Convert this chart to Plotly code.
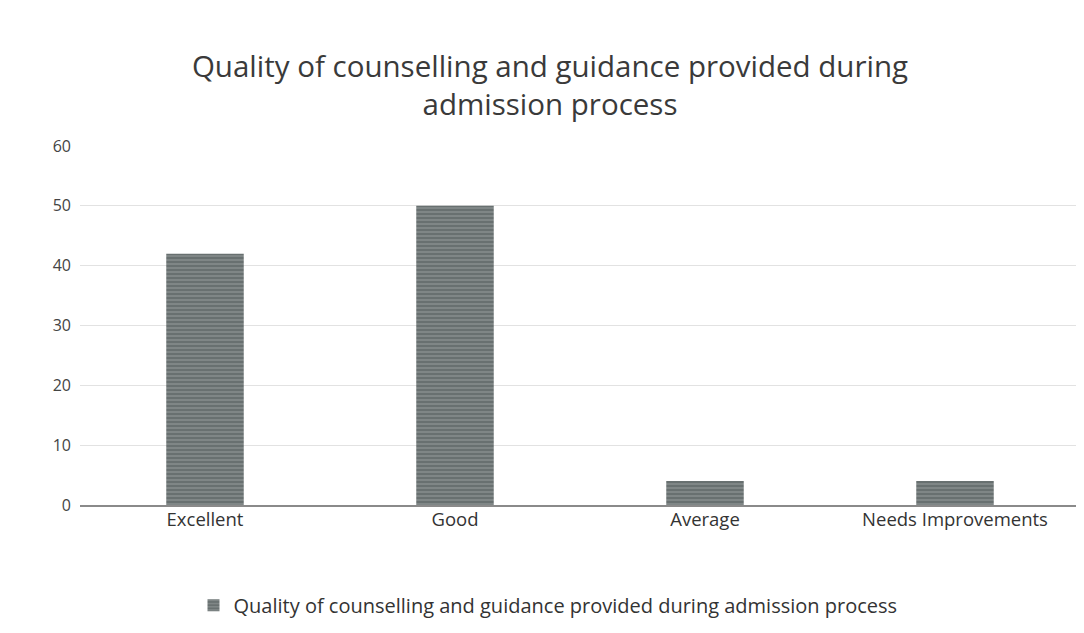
import plotly.graph_objects as go

categories = ["Excellent", "Good", "Average", "Needs Improvements"]
values = [42, 50, 4, 4]
series_name = "Quality of counselling and guidance provided during admission process"
title_text = "Quality of counselling and guidance provided during<br>admission process"
y_ticks = [0, 10, 20, 30, 40, 50, 60]

fig = go.Figure()
fig.add_trace(go.Bar(
    x=categories, y=values, name=series_name,
    marker=dict(color="#687070", line=dict(width=0),
                pattern=dict(shape="-", fgcolor="#a8aeae", size=4, solidity=0.35)),
    width=0.31,
))

fig.update_layout(
    width=1084, height=633,
    paper_bgcolor="white", plot_bgcolor="white",
    font=dict(family="Open Sans, sans-serif", color="#333333"),
    title=dict(text=title_text, x=0.5, xanchor="center", y=0.891, yanchor="middle",
               font=dict(size=29.5, color="#3a3a3a")),
    margin=dict(l=72, r=12, t=138, b=136),
    showlegend=True,
    legend=dict(orientation="h", x=0.468, xanchor="center", y=-0.279, yanchor="middle",
                font=dict(size=20, color="#333333")),
    bargap=0.69,
)
fig.update_xaxes(showgrid=False, showline=True, linecolor="#8a8a8a", linewidth=1.5,
                 tickfont=dict(size=18.5, color="#333333"), ticks="", ticklabelstandoff=-3)
fig.update_yaxes(range=[0, 60], tickvals=y_ticks, showgrid=True, gridcolor="#e2e2e2",
                 zeroline=False, showline=False, tickfont=dict(size=16, color="#444444"),
                 ticklabelstandoff=8)

fig.write_html("out.html")
